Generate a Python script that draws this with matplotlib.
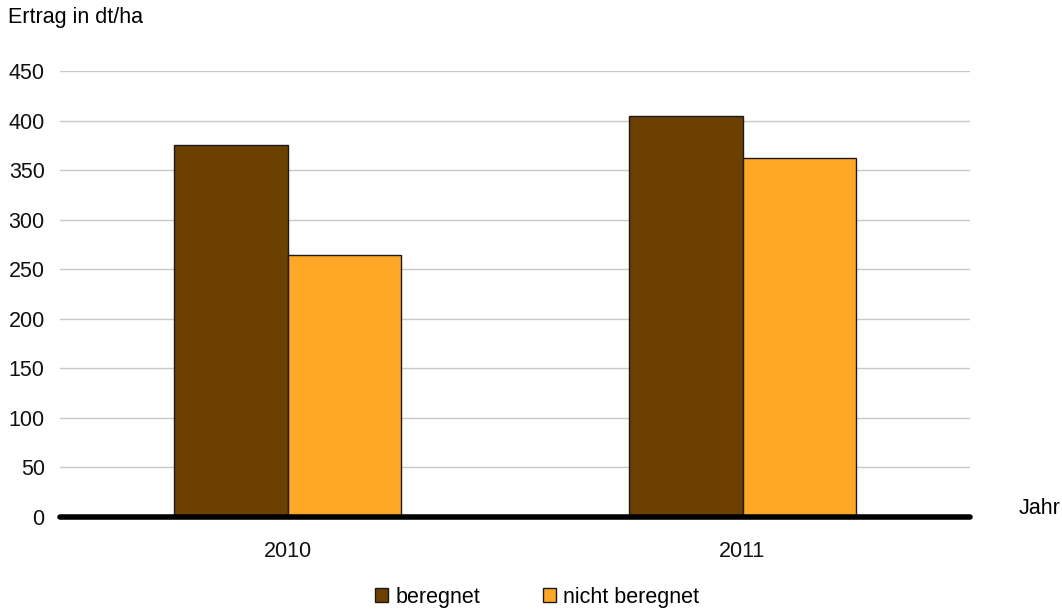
import matplotlib
matplotlib.use("Agg")
import matplotlib.pyplot as plt
import numpy as np

years = ["2010", "2011"]
beregnet = [375, 405]
nicht_beregnet = [264, 362]
yticks = [0, 50, 100, 150, 200, 250, 300, 350, 400, 450]

plt.rcParams["font.family"] = ["Liberation Sans", "DejaVu Sans"]
FS = 15.5

W, H, dpi = 1062, 610, 100
fig = plt.figure(figsize=(W / dpi, H / dpi), dpi=dpi)
ax = fig.add_axes([60 / W, (H - 517) / H, 910 / W, 446 / H])

x = np.arange(len(years))
bw = 0.25
ax.bar(x - bw / 2, beregnet, width=bw, color="#6B4000", edgecolor="#1a1a1a",
       linewidth=1, label="beregnet", zorder=3)
ax.bar(x + bw / 2, nicht_beregnet, width=bw, color="#FFA726", edgecolor="#1a1a1a",
       linewidth=1, label="nicht beregnet", zorder=3)

ax.set_xlim(-0.5, 1.5)
ax.set_ylim(0, 450)
ax.set_yticks(yticks)
ax.set_xticks(x)
ax.set_xticklabels(years)
ax.yaxis.grid(True, color="#c8c8c8", linewidth=1, zorder=0)
ax.tick_params(axis="both", length=0, labelsize=FS, colors="#111111")
ax.tick_params(axis="x", pad=17)
ax.tick_params(axis="y", pad=11)
for sp in ax.spines.values():
    sp.set_visible(False)
ax.axhline(0, color="black", linewidth=4, solid_capstyle="round", zorder=4,
           clip_on=False)

fig.text(8 / W, 1 - 18 / H, "Ertrag in dt/ha", fontsize=FS, va="center", ha="left")
fig.text(1019 / W, 1 - 509 / H, "Jahr", fontsize=FS, va="center", ha="left")

fig.legend(loc="center", bbox_to_anchor=(537 / W, 1 - 597 / H), ncol=2, frameon=False,
           fontsize=FS, handlelength=0.6, handleheight=0.6, handletextpad=0.35,
           columnspacing=2.9)

fig.savefig("out.png", dpi=dpi, facecolor="white")
